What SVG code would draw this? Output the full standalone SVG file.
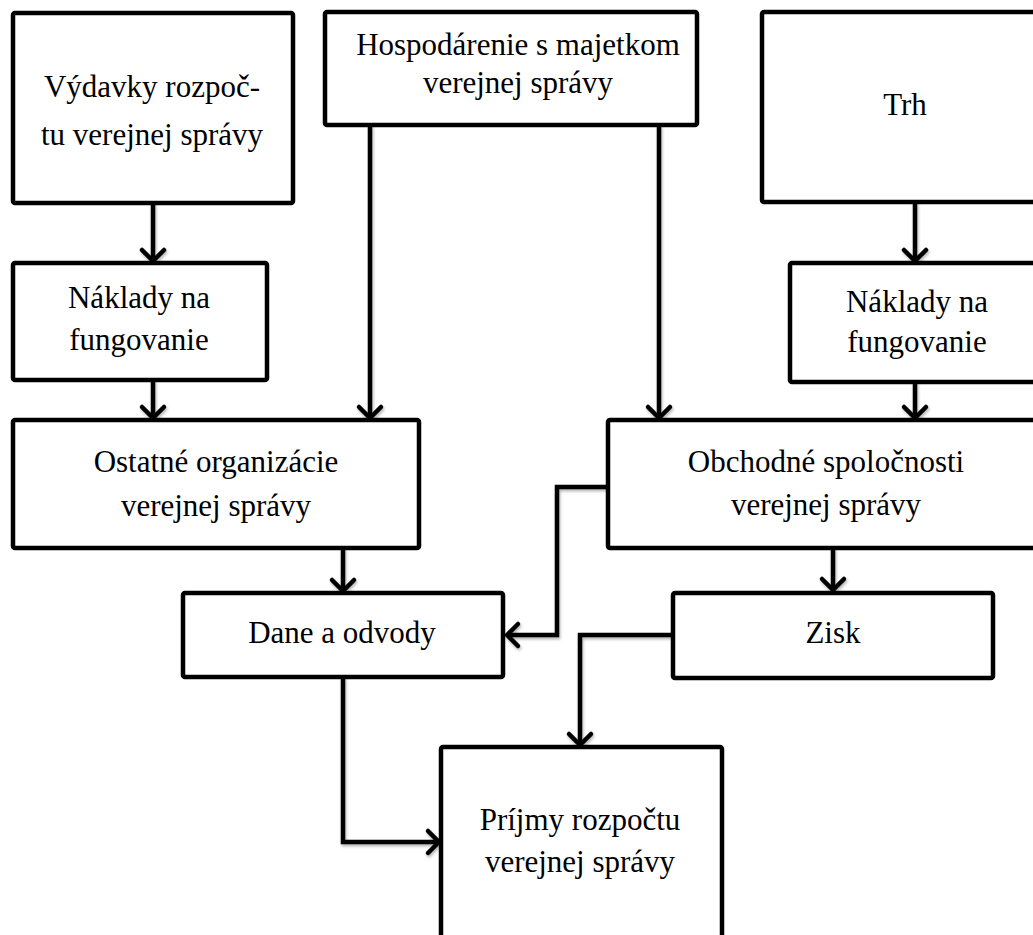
<svg xmlns="http://www.w3.org/2000/svg" width="1033" height="935" viewBox="0 0 1033 935">
<defs>
<style>
.box{fill:#fff;stroke:#000;stroke-width:4.5;stroke-linejoin:round}
.t{font-family:"Liberation Serif","Times New Roman",serif;font-size:31px;fill:#000;text-anchor:middle}
.c{fill:none;stroke:#000;stroke-width:4.5;stroke-linejoin:miter;marker-end:url(#ah)}
</style>
<marker id="ah" markerUnits="userSpaceOnUse" markerWidth="30" markerHeight="30" viewBox="-16 -15 20 30" refX="0" refY="0" orient="auto">
<path d="M-11,-11 L0,0 L-11,11" fill="none" stroke="#000" stroke-width="4.5" stroke-linecap="round" stroke-linejoin="round"/>
</marker>
<filter id="sh" x="-10%" y="-10%" width="120%" height="120%">
<feDropShadow dx="1" dy="2" stdDeviation="1.5" flood-color="#000" flood-opacity="0.3"/>
</filter>
</defs>
<rect width="1033" height="935" fill="#fff"/>
<g id="connectors" filter="url(#sh)">
<path class="c" d="M153,203 V261"/>
<path class="c" d="M153,380 V418"/>
<path class="c" d="M370,125 V418"/>
<path class="c" d="M659,125 V418"/>
<path class="c" d="M915,202 V261"/>
<path class="c" d="M915,382 V418"/>
<path class="c" d="M343,548 V591"/>
<path class="c" d="M833,548 V590"/>
<path class="c" d="M608,487 H557 V635 H507"/>
<path class="c" d="M673,635 H580 V745"/>
<path class="c" d="M343,677 V842 H439"/>
</g>
<g id="n-vydavky"><rect class="box" x="13" y="13" width="280" height="190" rx="2"/><text class="t" x="152" y="97">Výdavky rozpoč-</text><text class="t" x="152" y="145">tu verejnej správy</text></g>
<g id="n-hospodarenie"><rect class="box" x="325" y="12" width="372" height="113" rx="2"/><text class="t" x="518" y="55">Hospodárenie s majetkom</text><text class="t" x="518" y="93">verejnej správy</text></g>
<g id="n-trh"><rect class="box" x="762" y="12" width="290" height="190" rx="2"/><text class="t" x="905" y="115">Trh</text></g>
<g id="n-naklady-l"><rect class="box" x="13" y="263" width="254" height="117" rx="2"/><text class="t" x="139" y="308">Náklady na</text><text class="t" x="139" y="350">fungovanie</text></g>
<g id="n-naklady-r"><rect class="box" x="790" y="263" width="260" height="119" rx="2"/><text class="t" x="917" y="312">Náklady na</text><text class="t" x="917" y="352">fungovanie</text></g>
<g id="n-ostatne"><rect class="box" x="13" y="420" width="406" height="128" rx="2"/><text class="t" x="216" y="472">Ostatné organizácie</text><text class="t" x="216" y="516">verejnej správy</text></g>
<g id="n-obchodne"><rect class="box" x="608" y="420" width="445" height="128" rx="2"/><text class="t" x="826" y="472">Obchodné spoločnosti</text><text class="t" x="826" y="515">verejnej správy</text></g>
<g id="n-dane"><rect class="box" x="183" y="593" width="320" height="84" rx="2"/><text class="t" x="342" y="643">Dane a odvody</text></g>
<g id="n-zisk"><rect class="box" x="673" y="593" width="320" height="85" rx="2"/><text class="t" x="833" y="643">Zisk</text></g>
<g id="n-prijmy"><rect class="box" x="441" y="747" width="281" height="210" rx="2"/><text class="t" x="580" y="830">Príjmy rozpočtu</text><text class="t" x="580" y="872">verejnej správy</text></g>
</svg>
